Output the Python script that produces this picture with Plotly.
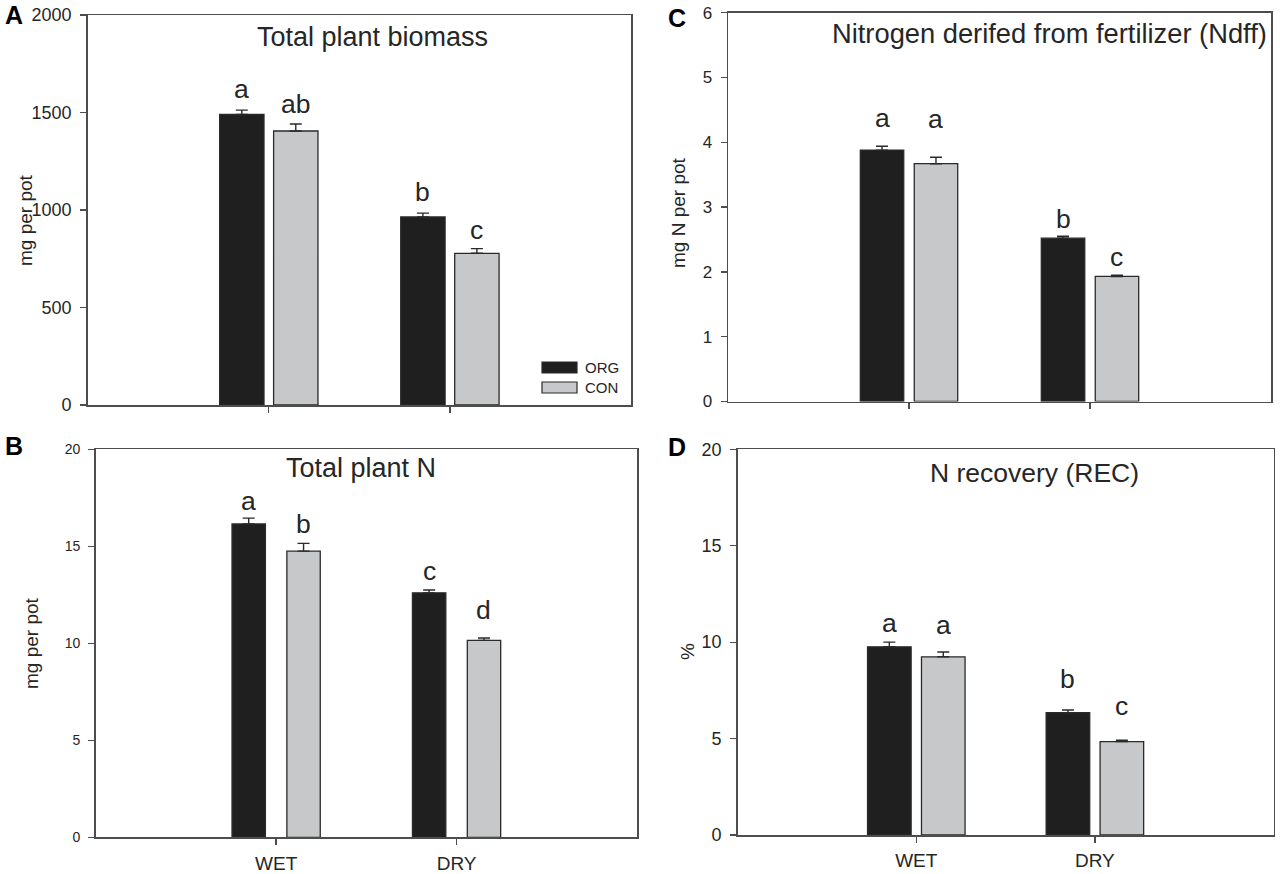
import plotly.graph_objects as go

# ---------------- data ----------------
categories = ["WET", "DRY"]
series_names = ["ORG", "CON"]

biomass_org = [1490, 964]
biomass_org_se = [22, 20]
biomass_con = [1405, 778]
biomass_con_se = [36, 24]
biomass_letters_org = ["a", "b"]
biomass_letters_con = ["ab", "c"]

plantN_org = [16.15, 12.6]
plantN_org_se = [0.3, 0.15]
plantN_con = [14.75, 10.15]
plantN_con_se = [0.4, 0.12]
plantN_letters_org = ["a", "c"]
plantN_letters_con = ["b", "d"]

ndff_org = [3.88, 2.52]
ndff_org_se = [0.06, 0.03]
ndff_con = [3.67, 1.93]
ndff_con_se = [0.10, 0.02]
ndff_letters_org = ["a", "b"]
ndff_letters_con = ["a", "c"]

rec_org = [9.76, 6.34]
rec_org_se = [0.24, 0.14]
rec_con = [9.24, 4.84]
rec_con_se = [0.25, 0.07]
rec_letters_org = ["a", "b"]
rec_letters_con = ["a", "c"]

# ---------------- styles ----------------
W, H = 1280, 874
FONT = "Liberation Sans, Arial, sans-serif"
TXT = "#262626"
AX = "#4d4d4d"
ORG_FILL = "#1f1f1f"
CON_FILL = "#c7c8c9"


def px_x(p):
    return p / W


def px_y(p):
    return 1 - p / H


panels = [
    dict(tag="A", title="Total plant biomass", title_size=27,
         org=biomass_org, org_se=biomass_org_se, con=biomass_con, con_se=biomass_con_se,
         lo=biomass_letters_org, lc=biomass_letters_con,
         box=(87.7, 631, 15, 405), yr=[0, 2000], dtick=500, tickfont=18,
         ytitle="mg per pot", ytitle_xy=(25, 220), bw=0.245, off=0.149,
         show_x=False, title_x=255, title_y=37, title_anchor="left",
         tag_xy=(3, 15), lift_org=[10, 10.5], lift_con=[9, 8]),
    dict(tag="B", title="Total plant N", title_size=27,
         org=plantN_org, org_se=plantN_org_se, con=plantN_con, con_se=plantN_con_se,
         lo=plantN_letters_org, lc=plantN_letters_con,
         box=(95.7, 637, 449.3, 837.3), yr=[0, 20], dtick=5, tickfont=14,
         ytitle="mg per pot", ytitle_xy=(31, 643), bw=0.185, off=0.152,
         show_x=True, title_x=361, title_y=468, title_anchor="center",
         tag_xy=(3, 446), lift_org=[6.6, 8.3], lift_con=[8.7, 17]),
    dict(tag="C", title="Nitrogen derifed from fertilizer (Ndff)", title_size=27.3,
         org=ndff_org, org_se=ndff_org_se, con=ndff_con, con_se=ndff_con_se,
         lo=ndff_letters_org, lc=ndff_letters_con,
         box=(728, 1271, 12.7, 401.5), yr=[0, 6], dtick=1, tickfont=17,
         ytitle="mg N per pot", ytitle_xy=(679, 213), bw=0.24, off=0.149,
         show_x=False, title_x=830, title_y=33, title_anchor="left",
         tag_xy=(666, 18), lift_org=[16.7, 6], lift_con=[26.7, 7]),
    dict(tag="D", title="N recovery (REC)", title_size=26.5,
         org=rec_org, org_se=rec_org_se, con=rec_con, con_se=rec_con_se,
         lo=rec_letters_org, lc=rec_letters_con,
         box=(737.7, 1273.5, 449.3, 835), yr=[0, 20], dtick=5, tickfont=18,
         ytitle="%", ytitle_xy=(687, 652), bw=0.244, off=0.151,
         show_x=True, title_x=1034, title_y=473, title_anchor="center",
         tag_xy=(666, 447), lift_org=[8.4, 20], lift_con=[16, 23.6]),
]

xpos = list(range(len(categories)))

fig = go.Figure()
annotations = []
shapes = []
layout = {}

for i, p in enumerate(panels):
    n = "" if i == 0 else str(i + 1)
    xa, ya = "x" + n, "y" + n
    x0, x1, y0, y1 = p["box"]
    for vals, se, fill, name, sign, letters, lifts in (
        (p["org"], p["org_se"], ORG_FILL, "ORG", -1, p["lo"], p["lift_org"]),
        (p["con"], p["con_se"], CON_FILL, "CON", 1, p["lc"], p["lift_con"]),
    ):
        fig.add_trace(go.Bar(
            x=xpos, y=vals, xaxis=xa, yaxis=ya, name=name, showlegend=False,
            width=p["bw"], offset=sign * p["off"] - p["bw"] / 2,
            marker=dict(color=fill, line=dict(color="#2a2a2a", width=1.3)),
            error_y=dict(type="data", array=se, arrayminus=[0] * len(se),
                         symmetric=False, color="#2a2a2a", thickness=1.4, width=6),
        ))
        for k, (v, s, t) in enumerate(zip(vals, se, letters)):
            annotations.append(dict(
                x=xpos[k] + sign * p["off"], y=v + s, xref=xa, yref=ya,
                text=t, showarrow=False, yanchor="bottom", xanchor="center",
                yshift=lifts[k] - 6,
                font=dict(family=FONT, size=26.5, color=TXT)))

    layout["xaxis" + n] = dict(
        domain=[px_x(x0), px_x(x1)], anchor=ya, range=[-1, 2], automargin=False,
        tickvals=xpos, ticktext=categories, showticklabels=p["show_x"],
        ticks="outside", ticklen=6, tickwidth=1.3, tickcolor=AX,
        showline=True, linecolor=AX, linewidth=1.5, mirror=True,
        showgrid=False, zeroline=False, fixedrange=True,
        tickfont=dict(family=FONT, size=19, color=TXT), ticklabelstandoff=2,
    )
    layout["yaxis" + n] = dict(
        domain=[px_y(y1), px_y(y0)], anchor=xa, range=p["yr"], dtick=p["dtick"],
        automargin=False,
        ticks="outside", ticklen=6, tickwidth=1.3, tickcolor=AX,
        showline=True, linecolor=AX, linewidth=1.5, mirror=True,
        showgrid=False, zeroline=False, fixedrange=True,
        tickfont=dict(family=FONT, size=p["tickfont"], color=TXT), ticklabelstandoff=5,
    )
    # panel title
    annotations.append(dict(
        x=px_x(p["title_x"]), y=px_y(p["title_y"]), xref="paper", yref="paper",
        text=p["title"], showarrow=False, xanchor=p["title_anchor"], yanchor="middle",
        font=dict(family=FONT, size=p["title_size"], color=TXT)))
    # y-axis title
    annotations.append(dict(
        x=px_x(p["ytitle_xy"][0]), y=px_y(p["ytitle_xy"][1]), xref="paper", yref="paper",
        text=p["ytitle"], showarrow=False, textangle=-90, xanchor="center", yanchor="middle",
        font=dict(family=FONT, size=19, color=TXT)))
    # panel tag
    annotations.append(dict(
        x=px_x(p["tag_xy"][0]), y=px_y(p["tag_xy"][1]), xref="paper", yref="paper",
        text="<b>%s</b>" % p["tag"], showarrow=False, xanchor="left", yanchor="middle",
        font=dict(family=FONT, size=25, color="#000000")))

# legend (panel A)
leg = [("ORG", ORG_FILL, 362, 373), ("CON", CON_FILL, 382, 393)]
for name, fill, t, b in leg:
    shapes.append(dict(type="rect", xref="paper", yref="paper",
                       x0=px_x(542), x1=px_x(577), y0=px_y(b), y1=px_y(t),
                       fillcolor=fill, line=dict(color="#2a2a2a", width=1.2)))
    annotations.append(dict(x=px_x(583), y=px_y((t + b) / 2), xref="paper", yref="paper",
                            text=name, showarrow=False, xanchor="left", yanchor="middle",
                            font=dict(family=FONT, size=15, color=TXT)))

fig.update_layout(
    template="none",
    width=W, height=H, margin=dict(l=0, r=0, t=0, b=0, pad=0, autoexpand=False),
    paper_bgcolor="white", plot_bgcolor="white",
    barmode="overlay", showlegend=False,
    annotations=annotations, shapes=shapes,
    font=dict(family=FONT, color=TXT),
    **layout,
)

# remove the default page margin so the 1280x874 figure fills the window exactly
fig.write_html("out.html",
               config={"displayModeBar": False, "staticPlot": True},
               post_script="document.body.style.margin='0px';"
                           "document.body.style.overflow='hidden';")
